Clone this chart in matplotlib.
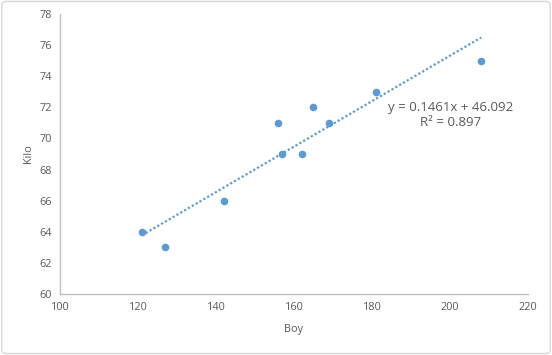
import numpy as np
import matplotlib
matplotlib.use("Agg")
import matplotlib.pyplot as plt
from matplotlib.patches import FancyBboxPatch

boy = [121, 127, 142, 156, 157, 162, 165, 169, 181, 208]
kilo = [64, 63, 66, 71, 69, 69, 72, 71, 73, 75]
eq_text = "y = 0.1461x + 46.092\nR² = 0.897"

blue = "#5B9BD5"
grey_txt = "#595959"
axis_grey = "#BFBFBF"

plt.rcParams['font.family'] = ['Open Sans', 'DejaVu Sans']

fig = plt.figure(figsize=(5.52, 3.55), dpi=100)
ax = fig.add_axes([0.1087, 0.1718, 0.8478, 0.7888])

# outer rounded border like the spreadsheet chart frame
fig.patches.append(FancyBboxPatch((0.003, 0.004), 0.994, 0.992,
                                  boxstyle="round,pad=0,rounding_size=0.01",
                                  transform=fig.transFigure, fill=False,
                                  edgecolor="#D9D9D9", linewidth=1.0))

ax.scatter(boy, kilo, s=30, color=blue, zorder=3, linewidths=0)

# linear trendline
slope, intercept = np.polyfit(boy, kilo, 1)
xs = np.array([min(boy), max(boy)])
ax.plot(xs, slope * xs + intercept, color=blue, linewidth=1.6,
        linestyle=(0, (1, 1)), zorder=2)

ax.text(0.834, 0.64, eq_text, transform=ax.transAxes, ha='center',
        va='center', fontsize=9.5, color=grey_txt, linespacing=1.15)

ax.set_xlim(100, 220)
ax.set_ylim(60, 78)
ax.set_xticks(range(100, 221, 20))
ax.set_yticks(range(60, 79, 2))
ax.tick_params(length=0, labelsize=7.8, labelcolor=grey_txt, pad=6)

for s in ['top', 'right']:
    ax.spines[s].set_visible(False)
for s in ['left', 'bottom']:
    ax.spines[s].set_color(axis_grey)
    ax.spines[s].set_linewidth(1.0)

ax.set_xlabel("Boy", fontsize=7.8, color=grey_txt, labelpad=8)
ax.set_ylabel("Kilo", fontsize=7.8, color=grey_txt, labelpad=4)

fig.savefig("out.png", dpi=100)
